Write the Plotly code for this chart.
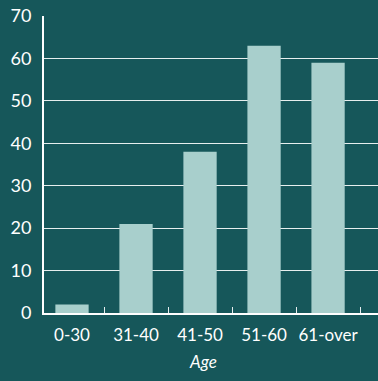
import plotly.graph_objects as go

age_groups = ["0-30", "31-40", "41-50", "51-60", "61-over"]
counts = [2, 21, 38, 63, 59]
y_ticks = [0, 10, 20, 30, 40, 50, 60, 70]

BG = "#16575a"
BAR = "#a8cfcc"
LINE = "#e6eeee"
FONT = "Lato"

fig = go.Figure(
    go.Bar(
        x=age_groups,
        y=counts,
        marker=dict(color=BAR, line=dict(width=0)),
        width=0.52,
    )
)

fig.update_layout(
    width=378,
    height=381,
    margin=dict(l=44, r=0, t=16, b=68),
    paper_bgcolor=BG,
    plot_bgcolor=BG,
    showlegend=False,
    font=dict(family=FONT, color="white", size=17),
    annotations=[
        dict(
            text="<i>Age</i>",
            xref="paper",
            yref="paper",
            x=0.476,
            y=-0.12,
            xanchor="center",
            yanchor="top",
            showarrow=False,
            font=dict(family=FONT, size=17, color="white"),
        )
    ],
)

fig.update_xaxes(
    type="category",
    range=[-0.4375, 4.78],
    showline=True,
    linecolor="white",
    linewidth=2,
    ticks="inside",
    tickson="boundaries",
    ticklen=6,
    tickcolor=LINE,
    tickwidth=1,
    showgrid=False,
    tickangle=0,
    ticklabelstandoff=6,
    tickfont=dict(family=FONT, size=17, color="white"),
)

fig.update_yaxes(
    range=[0, 70],
    tickvals=y_ticks,
    showline=True,
    linecolor="white",
    linewidth=2,
    showgrid=True,
    gridcolor=LINE,
    gridwidth=1,
    zeroline=False,
    ticks="",
    ticklabelstandoff=7,
    tickfont=dict(family=FONT, size=18, color="white"),
)

fig.write_html("out.html")
